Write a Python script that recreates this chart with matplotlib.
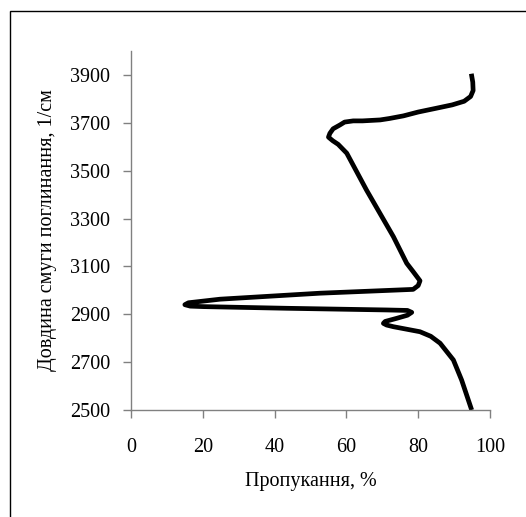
import matplotlib
matplotlib.use("Agg")
import matplotlib.pyplot as plt
from matplotlib.patches import Rectangle

# transmission, % (x) vs band wavenumber, 1/cm (y)
transmission = [94.8, 95.2, 95.3, 94.6, 92.8, 89.5, 85.1, 80.0, 75.9, 72.0,
                69.4, 64.5, 61.9, 59.5, 58.2, 56.3, 55.4, 55.0, 56.2, 57.7,
                60.1, 65.6, 73.1, 76.8, 78.6, 80.5, 80.0, 78.6, 52.6, 24.8,
                16.0, 15.0, 16.5, 20.1, 43.4, 71.2, 77.0, 78.2, 77.0, 74.0,
                70.8, 70.3, 71.2, 73.1, 80.5, 83.5, 86.1, 89.8, 92.1, 94.9]
wavenumber = [3905, 3870, 3835, 3810, 3790, 3775, 3761, 3745, 3729, 3718,
              3712, 3708, 3708, 3703, 3691, 3675, 3656, 3640, 3625, 3610,
              3573, 3419, 3224, 3113, 3078, 3040, 3020, 3004, 2988, 2963,
              2948, 2940, 2934, 2932, 2925, 2918, 2916, 2908, 2896, 2883,
              2870, 2862, 2855, 2848, 2827, 2808, 2779, 2709, 2625, 2500]

x_ticks = [0, 20, 40, 60, 80, 100]
y_ticks = [2500, 2700, 2900, 3100, 3300, 3500, 3700, 3900]

plt.rcParams['font.family'] = ['Liberation Serif', 'DejaVu Serif']

fig = plt.figure(figsize=(5.26, 5.17), dpi=100)
ax = fig.add_axes([131 / 526, 107 / 517, 359 / 526, 359 / 517])

# outer frame like the Excel chart area
fig.patches.append(Rectangle((10 / 526, -0.1), 1.2, (517 - 11) / 517 + 0.1,
                             transform=fig.transFigure, fill=False,
                             edgecolor='black', linewidth=1.0))

ax.plot(transmission, wavenumber, color='black', linewidth=3.4,
        solid_joinstyle='round', solid_capstyle='butt')

ax.set_xlim(0, 100)
ax.set_ylim(2500, 4000)
ax.set_xticks(x_ticks)
ax.set_yticks(y_ticks)
ax.spines['top'].set_visible(False)
ax.spines['right'].set_visible(False)
for s in ['left', 'bottom']:
    ax.spines[s].set_color('#808080')
    ax.spines[s].set_linewidth(1.0)
ax.tick_params(axis='both', direction='out', length=6, width=1.0,
               color='#808080', labelsize=14.5)
ax.tick_params(axis='y', pad=9)
ax.tick_params(axis='x', pad=14)

ax.set_xlabel('Пропукання, %', fontsize=14.5, labelpad=11)
ax.set_ylabel('Довдина смуги поглинання, 1/см', fontsize=14.5, labelpad=9)

fig.savefig('out.png', dpi=100)
